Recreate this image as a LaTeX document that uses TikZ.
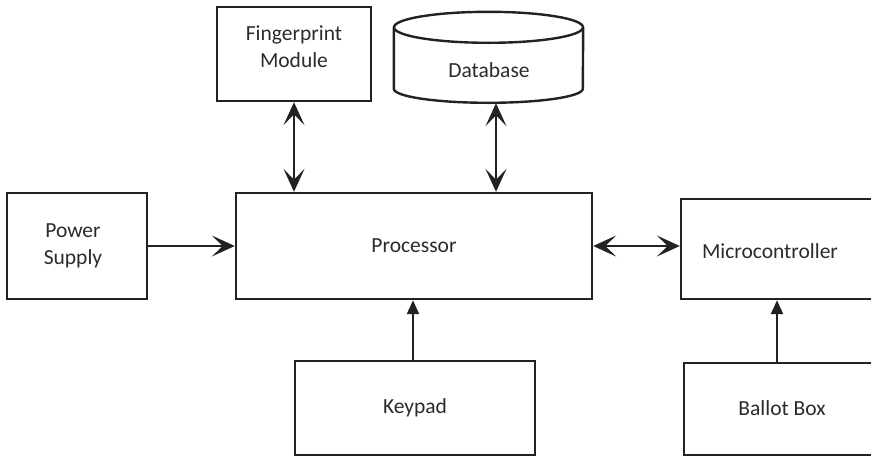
\documentclass[tikz,border=0pt]{standalone}
\usepackage{fontspec}
\setmainfont{Carlito}
\usetikzlibrary{arrows.meta,calc}
\definecolor{ln}{HTML}{222222}
\definecolor{tx}{HTML}{2B2B2B}
\begin{document}
\begin{tikzpicture}[x=1pt,y=-1pt,
  every node/.style={font=\fontsize{21.5}{27}\selectfont, text=tx},
  blk/.style={draw=ln, line width=2.4pt, rectangle, inner sep=0pt},
  lbl/.style={inner sep=0pt, align=center},
  stl/.style={Stealth[length=23pt,width=21pt,inset=11pt]},
  dbl/.style={draw=ln, line width=2.4pt, {Stealth[length=23pt,width=21pt,inset=11pt]}-{Stealth[length=23pt,width=21pt,inset=11pt]}},
  sgl/.style={draw=ln, line width=2.4pt, -{Stealth[length=23pt,width=21pt,inset=11pt]}},
  tri/.style={draw=ln, line width=2.4pt, -{Triangle[length=14pt,width=12pt]}}]
\useasboundingbox (0,0) rectangle (871,456);
\clip (0,0) rectangle (871,456);
\fill[white] (0,0) rectangle (871,456);
% boxes
\node[blk, minimum width=154, minimum height=94] (fp) at (294,54) {};
\node[lbl] (fptext) at (294,47) {Fingerprint\\Module};
\node[inner sep=0pt, minimum width=189, minimum height=91] (db) at (488.5,57.5) {};
\coordinate (dbtl) at ($(db.north west)+(0,15.5)$);
\coordinate (dbtr) at ($(db.north east)+(0,15.5)$);
\draw[ln, line width=2.4pt] ($(db.north)+(0,15.5)$) ellipse [x radius=94.5, y radius=15.5];
\draw[ln, line width=2.4pt] (dbtl) -- ++(0,61.5) arc[start angle=180, end angle=0, x radius=94.5, y radius=14] -- (dbtr);
\node[lbl] (dbtext) at (489,70) {Database};
\node[blk, minimum width=140, minimum height=106] (ps) at (77,246) {};
\node[lbl] (pstext) at (73,246) {Power\\Supply};
\node[blk, minimum width=356, minimum height=106] (proc) at (414,246) {Processor};
\node[blk, minimum width=200, minimum height=100] (mc) at (781,249) {};
\node[lbl] (mctext) at (770,251) {Microcontroller};
\node[blk, minimum width=240, minimum height=94] (kp) at (415,408) {Keypad};
\node[blk, minimum width=200, minimum height=92] (bb) at (784,409) {};
\node[lbl] (bbtext) at (782,408) {Ballot Box};
% connectors
\draw[dbl] (fp.south) -- (fp.south |- proc.north);
\draw[dbl] ([xshift=7.5pt]db.south) -- ([xshift=7.5pt]db.south |- proc.north);
\draw[sgl] (ps.east) -- (ps.east -| proc.west);
\draw[dbl] (proc.east) -- (proc.east -| mc.west);
\draw[tri] ([xshift=-2pt]kp.north) -- ([xshift=-2pt]kp.north |- proc.south);
\draw[tri] ([xshift=-7pt]bb.north) -- ([xshift=-7pt]bb.north |- mc.south);
\end{tikzpicture}
\end{document}
